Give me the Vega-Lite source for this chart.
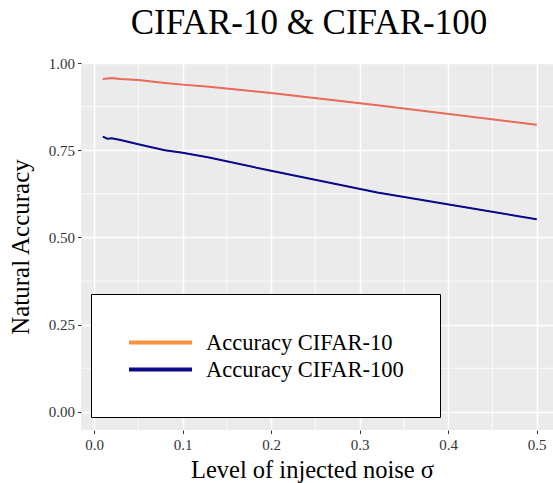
{
  "$schema": "https://vega.github.io/schema/vega-lite/v6.json",
  "width": 472,
  "height": 367,
  "autosize": {"type": "none"},
  "padding": {"left": 81, "top": 63, "right": 0, "bottom": 53},
  "background": "white",
  "title": {
    "text": "CIFAR-10 & CIFAR-100",
    "font": "Liberation Serif",
    "fontSize": 35,
    "fontWeight": "normal",
    "color": "black",
    "anchor": "middle",
    "frame": "group",
    "dx": -8,
    "offset": 15
  },
  "config": {
    "view": {"fill": "#EBEBEB", "stroke": null},
    "axis": {
      "labelFont": "Liberation Serif",
      "titleFont": "Liberation Serif",
      "labelColor": "#333333",
      "titleColor": "black",
      "titleFontWeight": "normal",
      "tickColor": "#333333",
      "tickSize": 3.5,
      "tickWidth": 1,
      "domain": false,
      "gridColor": "white",
      "gridWidth": 1.6
    },
    "legend": {
      "orient": "none",
      "legendX": 10,
      "legendY": 231,
      "strokeColor": "black",
      "strokeWidth": 1,
      "fillColor": "white",
      "padding": 36,
      "labelFont": "Liberation Serif",
      "labelFontSize": 22.5,
      "labelColor": "black",
      "symbolType": "M-1,0H5",
      "symbolSize": 441,
      "symbolStrokeWidth": 4,
      "labelOffset": 54,
      "rowPadding": 3,
      "labelLimit": 400
    }
  },
  "datasets": {
    "acc": [
      {"sigma": 0.01, "accuracy": 0.954, "series": "Accuracy CIFAR-10"},
      {"sigma": 0.02, "accuracy": 0.957, "series": "Accuracy CIFAR-10"},
      {"sigma": 0.03, "accuracy": 0.954, "series": "Accuracy CIFAR-10"},
      {"sigma": 0.05, "accuracy": 0.951, "series": "Accuracy CIFAR-10"},
      {"sigma": 0.08, "accuracy": 0.943, "series": "Accuracy CIFAR-10"},
      {"sigma": 0.1, "accuracy": 0.938, "series": "Accuracy CIFAR-10"},
      {"sigma": 0.13, "accuracy": 0.932, "series": "Accuracy CIFAR-10"},
      {"sigma": 0.2, "accuracy": 0.914, "series": "Accuracy CIFAR-10"},
      {"sigma": 0.32, "accuracy": 0.879, "series": "Accuracy CIFAR-10"},
      {"sigma": 0.5, "accuracy": 0.823, "series": "Accuracy CIFAR-10"},
      {"sigma": 0.01, "accuracy": 0.789, "series": "Accuracy CIFAR-100"},
      {"sigma": 0.015, "accuracy": 0.783, "series": "Accuracy CIFAR-100"},
      {"sigma": 0.02, "accuracy": 0.784, "series": "Accuracy CIFAR-100"},
      {"sigma": 0.03, "accuracy": 0.779, "series": "Accuracy CIFAR-100"},
      {"sigma": 0.05, "accuracy": 0.767, "series": "Accuracy CIFAR-100"},
      {"sigma": 0.08, "accuracy": 0.75, "series": "Accuracy CIFAR-100"},
      {"sigma": 0.1, "accuracy": 0.743, "series": "Accuracy CIFAR-100"},
      {"sigma": 0.13, "accuracy": 0.729, "series": "Accuracy CIFAR-100"},
      {"sigma": 0.2, "accuracy": 0.691, "series": "Accuracy CIFAR-100"},
      {"sigma": 0.32, "accuracy": 0.629, "series": "Accuracy CIFAR-100"},
      {"sigma": 0.5, "accuracy": 0.552, "series": "Accuracy CIFAR-100"}
    ],
    "minorx": [{"v": 0.05}, {"v": 0.15}, {"v": 0.25}, {"v": 0.35}, {"v": 0.45}],
    "minory": [{"v": 0.125}, {"v": 0.375}, {"v": 0.625}, {"v": 0.875}]
  },
  "layer": [
    {
      "data": {"name": "minorx"},
      "mark": {"type": "rule", "color": "white", "strokeWidth": 0.8},
      "encoding": {
        "x": {"field": "v", "type": "quantitative", "scale": {"domain": [-0.0147, 0.5185], "nice": false, "zero": false}}
      }
    },
    {
      "data": {"name": "minory"},
      "mark": {"type": "rule", "color": "white", "strokeWidth": 0.8},
      "encoding": {
        "y": {"field": "v", "type": "quantitative", "scale": {"domain": [-0.052, 1.0], "nice": false, "zero": false}}
      }
    },
    {
      "data": {"name": "acc"},
      "mark": {"type": "line", "strokeWidth": 1},
      "encoding": {
        "x": {
          "field": "sigma", "type": "quantitative",
          "scale": {"domain": [-0.0147, 0.5185], "nice": false, "zero": false},
          "axis": {"values": [0, 0.1, 0.2, 0.3, 0.4, 0.5], "format": ".1f", "labelFontSize": 15, "labelPadding": 4, "title": "Level of injected noise σ", "titleFontSize": 24.5, "titlePadding": 6, "titleX": 231}
        },
        "y": {
          "field": "accuracy", "type": "quantitative",
          "scale": {"domain": [-0.052, 1.0], "nice": false, "zero": false},
          "axis": {"values": [0, 0.25, 0.5, 0.75, 1], "format": ".2f", "labelFontSize": 15, "labelPadding": 3, "title": "Natural Accuracy", "titleFontSize": 25, "titlePadding": 15}
        },
        "color": {
          "field": "series", "type": "nominal",
          "scale": {"domain": ["Accuracy CIFAR-10", "Accuracy CIFAR-100"], "range": ["#F7923F", "#0A0A8A"]},
          "legend": {"title": null}
        }
      }
    },
    {
      "data": {"name": "acc"},
      "mark": {"type": "line", "strokeWidth": 2},
      "encoding": {
        "x": {"field": "sigma", "type": "quantitative"},
        "y": {"field": "accuracy", "type": "quantitative"},
        "stroke": {
          "field": "series", "type": "nominal",
          "scale": {"domain": ["Accuracy CIFAR-10", "Accuracy CIFAR-100"], "range": ["#EB6A5E", "#0A0A8A"]},
          "legend": null
        }
      }
    }
  ]
}
